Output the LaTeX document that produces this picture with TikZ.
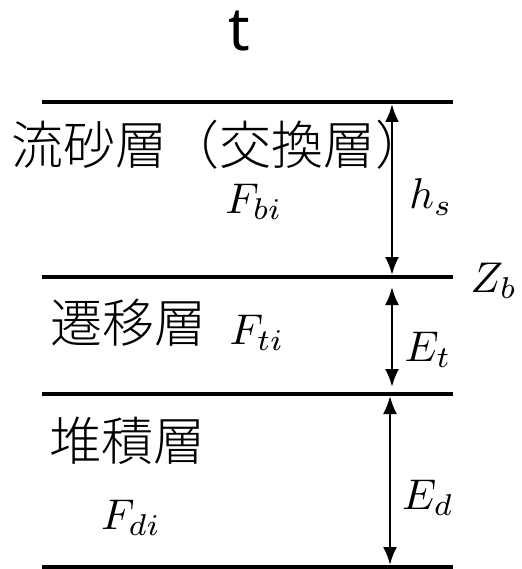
\documentclass[tikz,border=0pt]{standalone}
\usepackage{fontspec}
\setmainfont{Noto Sans}
\newfontfamily\jpfont{Noto Sans CJK JP Light}
\usetikzlibrary{arrows.meta}
\begin{document}
\begin{tikzpicture}[x=1pt,y=-1pt,
  layer/.style={line width=4pt},
  dim/.style={line width=2.6pt,{Latex[length=18pt,width=14pt]}-{Latex[length=18pt,width=14pt]}},
  jp/.style={inner sep=0pt,font=\jpfont\fontsize{52}{60}\selectfont},
  mth/.style={inner sep=0pt,scale=4.3}]
\useasboundingbox (0,0) rectangle (521,569);
% layer boundaries
\coordinate (l1a) at (42,102);  \coordinate (l1b) at (453,102);
\coordinate (l2a) at (42,277);  \coordinate (l2b) at (453,277);
\coordinate (l3a) at (42,394);  \coordinate (l3b) at (453,394);
\coordinate (l4a) at (42,567);  \coordinate (l4b) at (453,567);
\draw[layer] (l1a) -- (l1b);
\draw[layer] (l2a) -- (l2b);
\draw[layer] (l3a) -- (l3b);
\draw[layer] (l4a) -- (l4b);
% dimension arrows
\coordinate (h1) at (392,104); \coordinate (h2) at (392,275);
\coordinate (e1) at (392,287); \coordinate (e2) at (392,387);
\coordinate (d1) at (390,396); \coordinate (d2) at (390,565);
\draw[dim] (h1) -- (h2);
\draw[dim] (e1) -- (e2);
\draw[dim] (d1) -- (d2);
% texts
\node[inner sep=0pt,font=\fontsize{60}{70}\selectfont] (t) at (239,31) {t};
\node[jp,anchor=west] (ryusa) at (11,145) {流砂層（交換層）};
\node[jp,anchor=west] (senni) at (50,323) {遷移層};
\node[jp,anchor=west] (taiseki) at (49,441) {堆積層};
\node[mth] (Fbi) at (254,202) {$F_{bi}$};
\node[mth] (Fti) at (257,333) {$F_{ti}$};
\node[mth] (Fdi) at (131,518) {$F_{di}$};
\node[mth] (hs) at (431,197) {$h_s$};
\node[mth] (Zb) at (494,281) {$Z_b$};
\node[mth] (Et) at (428,350) {$E_t$};
\node[mth] (Ed) at (428,498) {$E_d$};
\end{tikzpicture}
\end{document}
